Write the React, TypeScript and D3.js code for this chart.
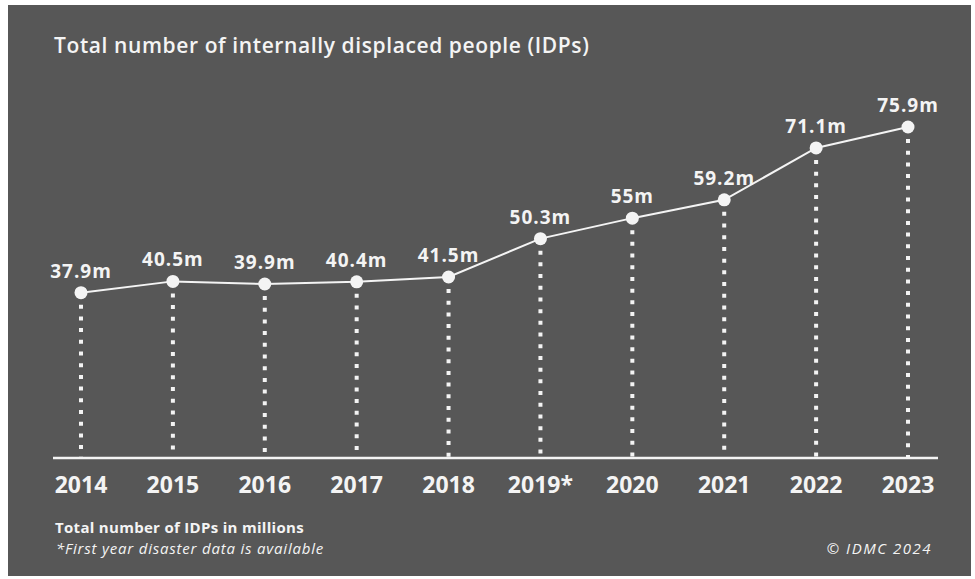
import React from "react";
import * as d3 from "d3";

const years = ["2014", "2015", "2016", "2017", "2018", "2019*", "2020", "2021", "2022", "2023"];
const values = [37.9, 40.5, 39.9, 40.4, 41.5, 50.3, 55, 59.2, 71.1, 75.9];
const valueLabels = ["37.9m", "40.5m", "39.9m", "40.4m", "41.5m", "50.3m", "55m", "59.2m", "71.1m", "75.9m"];

const W = 975;
const H = 579;
const FONT = "'Open Sans', 'DejaVu Sans', sans-serif";
const FG = "#f4f4f4";

export default function App() {
  const x = d3.scalePoint<string>().domain(years).range([81, 908]);
  const y = d3.scaleLinear().domain([0, 75.9]).range([458, 127]);
  const line = d3
    .line<number>()
    .x((_, i) => x(years[i]) as number)
    .y((d) => y(d));

  return (
    <svg
      width={W}
      height={H}
      style={{ position: "absolute", left: 0, top: 0, background: "#ffffff" }}
    >
      <rect x={8} y={5} width={963} height={571} fill="#575757" />
      <text x={54} y={53} fill={FG} fontFamily={FONT} fontWeight={600} fontSize={21} letterSpacing={0.6}>
        Total number of internally displaced people (IDPs)
      </text>
      {values.map((v, i) => (
        <line
          key={"d" + i}
          x1={x(years[i])}
          x2={x(years[i])}
          y1={y(v) + 12}
          y2={y(0)}
          stroke={FG}
          strokeWidth={4}
          strokeDasharray="4 7.7"
        />
      ))}
      <line x1={53} x2={938} y1={y(0)} y2={y(0)} stroke={FG} strokeWidth={2.5} />
      <path d={line(values) ?? ""} fill="none" stroke={FG} strokeWidth={2} />
      {values.map((v, i) => (
        <circle key={"c" + i} cx={x(years[i])} cy={y(v)} r={6.5} fill={FG} />
      ))}
      {values.map((v, i) => (
        <text
          key={"l" + i}
          x={x(years[i])}
          y={y(v) - 15}
          textAnchor="middle"
          fill={FG}
          fontFamily={FONT}
          fontWeight={700}
          fontSize={19}
          letterSpacing={1}
        >
          {valueLabels[i]}
        </text>
      ))}
      {years.map((yr) => (
        <text
          key={"y" + yr}
          x={x(yr)}
          y={493}
          textAnchor="middle"
          fill={FG}
          fontFamily={FONT}
          fontWeight={700}
          fontSize={23}
        >
          {yr}
        </text>
      ))}
      <text x={55} y={533} fill={FG} fontFamily={FONT} fontWeight={700} fontSize={15} letterSpacing={0.3}>
        Total number of IDPs in millions
      </text>
      <text x={56} y={554} fill={FG} fontFamily={FONT} fontStyle="italic" fontSize={15} letterSpacing={0.8}>
        *First year disaster data is available
      </text>
      <text x={932} y={554} textAnchor="end" fill={FG} fontFamily={FONT} fontStyle="italic" fontSize={15} letterSpacing={1.5}>
        © IDMC 2024
      </text>
    </svg>
  );
}
